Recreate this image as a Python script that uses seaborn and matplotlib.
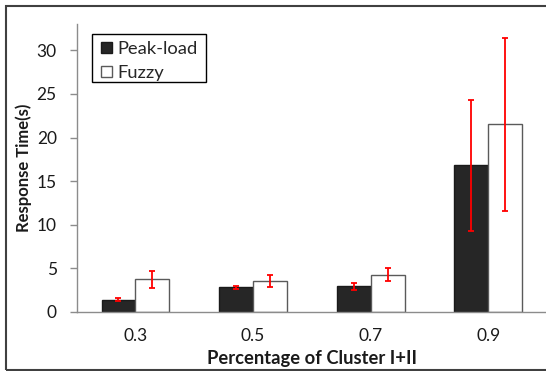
import matplotlib
matplotlib.use("Agg")
import matplotlib.pyplot as plt
from matplotlib.patches import Rectangle, Patch
from matplotlib.ticker import FixedLocator
import seaborn as sns
import pandas as pd

# Response time by share of Cluster I+II traffic
categories = ["0.3", "0.5", "0.7", "0.9"]
methods = ["Peak-load", "Fuzzy"]
peak_load = [1.4, 2.8, 2.9, 16.8]
fuzzy = [3.7, 3.5, 4.25, 21.5]
peak_load_err = [0.2, 0.17, 0.38, 7.5]
fuzzy_err = [1.0, 0.7, 0.75, 9.9]
y_ticks = [0, 5, 10, 15, 20, 25, 30]

df = pd.DataFrame({
    "Percentage": categories * 2,
    "Method": [methods[0]] * 4 + [methods[1]] * 4,
    "Time": peak_load + fuzzy,
})

sns.set_theme(style="white")
plt.rcParams["font.family"] = ["Lato", "DejaVu Sans"]

W, H = 546, 371
fig = plt.figure(figsize=(W / 100, H / 100), dpi=100)
ax = fig.add_axes([76.7 / W, 1 - 311.7 / H, (547 - 76.7) / W, (311.7 - 24.3) / H])

fills = {"Peak-load": "#262626", "Fuzzy": "white"}
edge = {"Peak-load": "#1a1a1a", "Fuzzy": "#5a5a5a"}

sns.barplot(data=df, x="Percentage", y="Time", hue="Method", order=categories,
            hue_order=methods, palette=fills, width=0.578, errorbar=None,
            ax=ax, linewidth=1.0, legend=False)

errs = [peak_load_err, fuzzy_err]
for cont, m, e in zip(ax.containers, methods, errs):
    for bar in cont:
        bar.set_edgecolor(edge[m])
        bar.set_linewidth(1.0)
    xs = [b.get_x() + b.get_width() / 2 for b in cont]
    ys = [b.get_height() for b in cont]
    ax.errorbar(xs, ys, yerr=e, fmt="none", ecolor="#ff0000", elinewidth=1.3,
                capsize=2.4, capthick=1.3, zorder=5)

ax.set_xlim(-0.5, 3.5)
ax.set_ylim(0, 33)
ax.set_yticks(y_ticks)
ax.xaxis.set_minor_locator(FixedLocator([-0.5, 0.5, 1.5, 2.5, 3.5]))

for s in ["top", "right"]:
    ax.spines[s].set_visible(False)
for s in ["left", "bottom"]:
    ax.spines[s].set_color("#8c8c8c")
    ax.spines[s].set_linewidth(1.0)

ax.tick_params(axis="x", which="major", length=0, pad=12, labelsize=12.5, colors="#1a1a1a")
ax.tick_params(axis="x", which="minor", length=4.8, width=1.0, color="#8c8c8c", direction="out")
ax.tick_params(axis="y", which="major", length=4.8, width=1.0, color="#8c8c8c",
               direction="out", pad=9.5, labelsize=12.5, labelcolor="#1a1a1a", left=True)

ax.set_xlabel("Percentage of Cluster I+II", fontsize=13.2, fontweight="bold",
              color="#1a1a1a", labelpad=4.4)
ax.set_ylabel("Response Time(s)", fontsize=12, fontweight="bold",
              color="#1a1a1a", labelpad=3.7)
ax.grid(False)

# Legend entries without their own frame; the box is drawn separately
handles = [Patch(facecolor=fills[m], edgecolor=edge[m], linewidth=1.0, label=m) for m in methods]
leg = ax.legend(handles=handles, loc="upper left", bbox_to_anchor=(100.7 / W, 1 - 40.9 / H),
                bbox_transform=fig.transFigure, borderaxespad=0, borderpad=0,
                fontsize=13.2, frameon=False, handlelength=0.63, handleheight=0.6,
                handletextpad=0.3, labelspacing=0.44)
fig.patches.append(Rectangle((91.7 / W, 1 - 81.7 / H), (206 - 91.7) / W, (81.7 - 34.3) / H,
                             transform=fig.transFigure, fill=False,
                             edgecolor="black", linewidth=1.0, zorder=3))

# Outer border around the whole figure
fig.patches.append(Rectangle((5.5 / W, 1 - 369.5 / H), 1.2, (369.5 - 5.5) / H,
                             transform=fig.transFigure, fill=False,
                             edgecolor="#404040", linewidth=1.5))

fig.savefig("out.png", dpi=100)
